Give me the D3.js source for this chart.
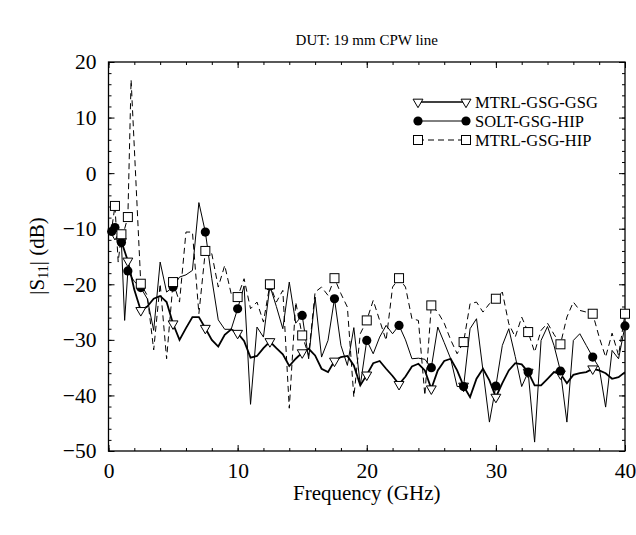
<!DOCTYPE html>
<html><head><meta charset="utf-8">
<script src="https://cdn.jsdelivr.net/npm/d3@7"></script>
<style>body{margin:0;background:#fff}svg{display:block}svg text{font-family:"Liberation Serif","Times New Roman",Times,serif !important;fill:#000}</style>
</head><body><svg id="c" width="636" height="535"></svg>
<script>
// ---- data ----
const title = "DUT: 19 mm CPW line";
const xLabel = "Frequency (GHz)";
const seriesNames = ["MTRL-GSG-GSG", "SOLT-GSG-HIP", "MTRL-GSG-HIP"];
const xTicks = [0, 10, 20, 30, 40];
const yTicks = [20, 10, 0, -10, -20, -30, -40, -50];

// MTRL-GSG-GSG  [GHz, dB]
const gsgGsg = [[0,-10.5],[0.5,-11],[1,-12.3],[1.5,-15.8],[2,-21],[2.5,-24.7],[3,-24],[3.5,-22.6],[4,-22.1],[4.5,-23.2],[5,-27.1],[5.5,-30],[6,-27.9],[6.5,-25.9],[7,-25.9],[7.5,-27.9],[8,-30],[8.5,-31.2],[9,-29.1],[9.5,-28.1],[10,-28.8],[10.5,-30.2],[11,-33.2],[11.5,-32.9],[12,-31.5],[12.5,-30.3],[13,-31.5],[13.5,-32.6],[14,-34.7],[14.5,-33.4],[15,-32.3],[15.5,-31.6],[16,-32.8],[16.5,-35.2],[17,-35.8],[17.5,-33.8],[18,-33.1],[18.5,-32.9],[19,-34.6],[19.5,-38.2],[20,-36.3],[20.5,-34.2],[21,-33.8],[21.5,-35.2],[22,-36.5],[22.5,-38],[23,-36.6],[23.5,-34.8],[24,-34.3],[24.5,-35.5],[25,-38.8],[25.5,-35.5],[26,-33.8],[26.5,-33.4],[27,-35.5],[27.5,-38.3],[28,-40.3],[28.5,-37],[29,-35.2],[29.5,-37.3],[30,-40.3],[30.5,-37.8],[31,-35.5],[31.5,-34.2],[32,-34.4],[32.5,-35.8],[33,-38.2],[33.5,-38.2],[34,-37],[34.5,-35.8],[35,-36.1],[35.5,-37.8],[36,-36.3],[36.5,-36],[37,-35.8],[37.5,-35.2],[38,-35.5],[38.5,-36],[39,-37],[39.5,-36.7],[40,-35.8]];
const gsgGsgMarks = [0.5,1,1.5,2.5,5,7.5,10,12.5,15,17.5,20,22.5,25,27.5,30,32.5,35,37.5];

// SOLT-GSG-HIP
const soltHip = [[0,-11],[0.25,-10.5],[0.5,-9.8],[0.75,-10.5],[1,-12.5],[1.25,-26.5],[1.5,-17.6],[2,-19.5],[2.5,-20.6],[3,-22.6],[3.5,-28.3],[4,-16],[4.5,-21.4],[5,-20.5],[5.5,-18.7],[6,-18.3],[6.5,-17.5],[7,-5.3],[7.5,-10.6],[8,-19],[8.5,-26.4],[9,-28.1],[9.5,-28.1],[10,-24.4],[10.5,-20.3],[11,-41.6],[11.5,-27.7],[12,-29.5],[12.5,-20.3],[13,-24],[13.5,-28],[14,-19.6],[14.5,-27],[15,-25.6],[15.5,-33.4],[16,-22.3],[16.5,-33.1],[17,-30.1],[17.5,-22.6],[18,-31],[18.5,-34.6],[19,-27.8],[19.5,-38.2],[20,-30.1],[20.5,-32.5],[21,-29.5],[21.5,-27.4],[22,-28.9],[22.5,-27.4],[23,-30],[23.5,-33.4],[24,-33.3],[24.5,-33.5],[25,-35],[25.5,-27.7],[26,-30.5],[26.5,-33.4],[27,-38.4],[27.5,-38.4],[28,-28],[28.5,-26.2],[29,-35.5],[29.5,-44.8],[30,-38.3],[30.5,-31],[31,-28],[31.5,-33],[32,-38.4],[32.5,-35.8],[33,-48.4],[33.5,-30.1],[34,-27.6],[34.5,-31],[35,-35.6],[35.5,-44.8],[36,-30.1],[36.5,-28.9],[37,-31],[37.5,-33.1],[38,-35],[38.5,-42.1],[39,-31.9],[39.5,-33.4],[40,-27.5]];
const soltHipMarks = [0.25,0.5,1,1.5,2.5,5,7.5,10,12.5,15,17.5,20,22.5,25,27.5,30,32.5,35,37.5,40];

// MTRL-GSG-HIP
const mtrlHip = [[0,-11],[0.25,-10],[0.5,-5.9],[0.75,-16],[1,-11],[1.25,-10],[1.5,-7.9],[1.75,16.8],[2.5,-19.9],[3,-22],[3.5,-31.8],[4,-19.9],[4.5,-33.4],[5,-19.6],[5.5,-23.2],[6,-10.6],[6.5,-10.6],[7,-25.3],[7.5,-14],[8,-14.5],[8.5,-20.5],[9,-16.6],[9.5,-21.7],[10,-22.3],[10.5,-19],[11,-24.4],[11.5,-23.2],[12,-26.8],[12.5,-20],[13,-23.2],[13.5,-21.1],[14,-42.3],[14.5,-23.2],[15,-29.2],[15.5,-32.8],[16,-21.4],[16.5,-20.5],[17,-22],[17.5,-18.9],[18,-21.7],[18.5,-24.1],[19,-40.3],[19.5,-28.9],[20,-26.5],[20.5,-22.9],[21,-26.5],[21.5,-30.1],[22,-20.5],[22.5,-18.9],[23,-20.5],[23.5,-26.2],[24,-26.5],[24.5,-40],[25,-23.8],[25.5,-25],[26,-27],[26.5,-30],[27,-32.5],[27.5,-30.4],[28,-23.5],[28.5,-23.2],[29,-25],[29.5,-23.5],[30,-22.6],[30.5,-21.4],[31,-27.1],[31.5,-29.5],[32,-25.9],[32.5,-28.6],[33,-32.2],[33.5,-28.3],[34,-27],[34.5,-29],[35,-30.8],[35.5,-25.9],[36,-23.2],[36.5,-24.7],[37,-25],[37.5,-25.3],[38,-29.5],[38.5,-33.1],[39,-28.8],[39.5,-32.8],[40,-25.3]];
const mtrlHipMarks = [0.5,1,1.5,2.5,5,7.5,10,12.5,15,17.5,20,22.5,25,27.5,30,32.5,35,37.5,40];

// ---- layout ----
const FONT = '"Liberation Serif","Times New Roman",Times,serif';
const svg = d3.select("#c");
const L = 108.5, R = 625, T = 62, B = 451;
const x = d3.scaleLinear().domain([0, 40]).range([L, R]);
const y = d3.scaleLinear().domain([-50, 20]).range([B, T]);

svg.append("defs").append("clipPath").attr("id","clip").append("rect")
  .attr("x", L).attr("y", T).attr("width", R - L).attr("height", B - T);

// frame
svg.append("rect").attr("x", L).attr("y", T).attr("width", R - L).attr("height", B - T)
  .attr("fill","none").attr("stroke","#000").attr("stroke-width",1.3);

// axes with inward ticks
function axes() {
  const minorX = d3.range(0, 40.01, 2);
  const minorY = d3.range(-50, 20.01, 2);
  const g = svg.append("g");
  const clean = s => s.select(".domain").remove();
  g.append("g").attr("transform",`translate(0,${B})`)
    .call(d3.axisBottom(x).tickValues(minorX).tickSize(-3).tickFormat("")).call(clean);
  g.append("g").attr("transform",`translate(0,${B})`)
    .call(d3.axisBottom(x).tickValues(xTicks).tickSize(-6).tickPadding(12).tickFormat(d3.format("d")))
    .call(clean).attr("font-family", FONT).attr("font-size", 21.5);
  g.append("g").attr("transform",`translate(0,${T})`)
    .call(d3.axisTop(x).tickValues(minorX).tickSize(-3).tickFormat("")).call(clean);
  g.append("g").attr("transform",`translate(0,${T})`)
    .call(d3.axisTop(x).tickValues(xTicks).tickSize(-6).tickFormat("")).call(clean);
  g.append("g").attr("transform",`translate(${L},0)`)
    .call(d3.axisLeft(y).tickValues(minorY).tickSize(-3).tickFormat("")).call(clean);
  g.append("g").attr("transform",`translate(${L},0)`)
    .call(d3.axisLeft(y).tickValues(yTicks).tickSize(-6).tickPadding(12).tickFormat(d3.format("d")))
    .call(clean).attr("font-family", FONT).attr("font-size", 21.5);
  g.append("g").attr("transform",`translate(${R},0)`)
    .call(d3.axisRight(y).tickValues(minorY).tickSize(-3).tickFormat("")).call(clean);
  g.append("g").attr("transform",`translate(${R},0)`)
    .call(d3.axisRight(y).tickValues(yTicks).tickSize(-6).tickFormat("")).call(clean);
  g.selectAll(".tick line").attr("stroke","#000").attr("stroke-width",1);
  g.selectAll(".tick text").attr("fill","#000");
}
axes();

const line = d3.line().x(d => x(d[0])).y(d => y(d[1]));
const plot = svg.append("g").attr("clip-path","url(#clip)");

const styles = [
  {data: gsgGsg, marks: gsgGsgMarks, width: 1.8, dash: null, marker: "tri"},
  {data: soltHip, marks: soltHipMarks, width: 1, dash: null, marker: "dot"},
  {data: mtrlHip, marks: mtrlHipMarks, width: 1, dash: "6,4", marker: "sq"}
];

function drawMarker(g, type, cx, cy) {
  if (type === "tri") {
    g.append("path").attr("d", d3.symbol().type(d3.symbolTriangle).size(42)())
      .attr("transform", `translate(${cx},${cy}) rotate(180)`)
      .attr("fill","#fff").attr("stroke","#000").attr("stroke-width",1);
  } else if (type === "dot") {
    g.append("circle").attr("cx", cx).attr("cy", cy).attr("r", 4.6).attr("fill","#000");
  } else {
    g.append("rect").attr("x", cx - 4.5).attr("y", cy - 4.5).attr("width", 9).attr("height", 9)
      .attr("fill","#fff").attr("stroke","#000").attr("stroke-width",1);
  }
}

styles.forEach(s => {
  plot.append("path").datum(s.data).attr("d", line).attr("fill","none")
    .attr("stroke","#000").attr("stroke-width", s.width)
    .attr("stroke-dasharray", s.dash).attr("stroke-linejoin","miter");
});
const mk = svg.append("g");
styles.forEach(s => {
  s.data.filter(d => s.marks.includes(d[0])).forEach(d => drawMarker(mk, s.marker, x(d[0]), y(d[1])));
});

// legend
const lg = svg.append("g");
styles.forEach((s, i) => {
  const ly = 102 + i * 19;
  lg.append("line").attr("x1", 418).attr("x2", 466).attr("y1", ly).attr("y2", ly)
    .attr("stroke","#000").attr("stroke-width", s.width === 1.8 ? 1.3 : 1).attr("stroke-dasharray", s.dash);
  drawMarker(lg, s.marker, 418, ly);
  drawMarker(lg, s.marker, 466, ly);
  lg.append("text").attr("x", 475).attr("y", ly + 5.5).attr("font-family", FONT).attr("font-size", 16.5).text(seriesNames[i]);
});

// titles
svg.append("text").attr("x", (L + R) / 2).attr("y", 45).attr("text-anchor","middle")
  .attr("font-family", FONT).attr("font-size", 15).text(title);
svg.append("text").attr("x", (L + R) / 2).attr("y", 500).attr("text-anchor","middle")
  .attr("font-family", FONT).attr("font-size", 21).text(xLabel);
const yl = svg.append("text").attr("transform", "translate(44,256) rotate(-90)").attr("text-anchor","middle")
  .attr("font-family", FONT).attr("font-size", 21);
yl.append("tspan").text("|S");
yl.append("tspan").attr("font-size", 14).attr("dy", 4).text("11");
yl.append("tspan").attr("dy", -4).text("| (dB)");
</script></body></html>
